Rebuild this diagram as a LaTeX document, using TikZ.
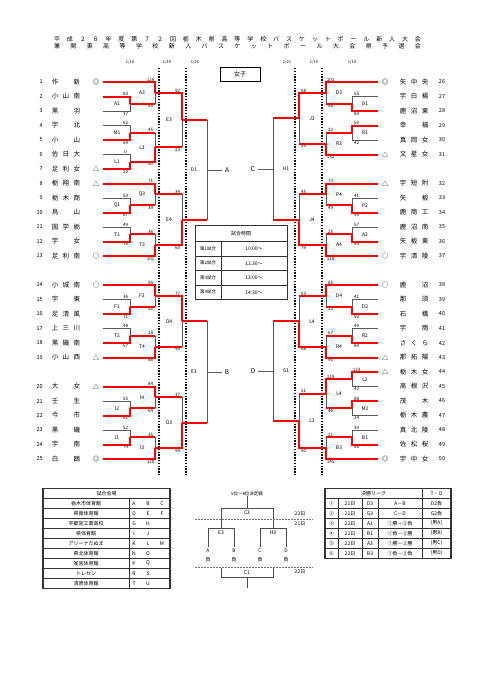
\documentclass[tikz,border=0pt]{standalone}
\usepackage{fontspec}
\setmainfont{Noto Sans CJK JP}
\usetikzlibrary{calc,positioning}

\makeatletter
\newcommand\spreadout[2]{\makebox[#1][s]{\expandafter\spread@i#2\@nil}}
\def\spread@i#1{\ifx#1\@nil\else#1\expandafter\spread@ii\fi}
\def\spread@ii#1{\ifx#1\@nil\else\hfil#1\expandafter\spread@ii\fi}
\makeatother

\tikzset{
  win/.style={draw=red, line width=2pt},
  lose/.style={draw=black!65, line width=0.7pt},
  sc/.style={font=\fontsize{4.5}{5}\selectfont, inner sep=0.6pt},
  lbl/.style={font=\fontsize{5}{6}\selectfont, inner sep=0pt},
  team/.style={font=\fontsize{6.5}{7}\selectfont, inner sep=0pt},
  num/.style={font=\fontsize{5.5}{6}\selectfont, inner sep=0pt},
  ttl/.style={font=\fontsize{6}{6}\selectfont, inner sep=0pt},
  datelbl/.style={font=\fontsize{4}{5}\selectfont, inner sep=0pt},
  dayline/.style={line width=1.4pt, dash pattern=on 1.4pt off 1.4pt},
  tline/.style={draw=black!80, line width=0.9pt},
  tbl/.style={font=\fontsize{5}{6}\selectfont, inner sep=0pt},
  pline/.style={draw=black!70, line width=0.6pt},
  pdash/.style={draw=black!55, line width=0.6pt, dash pattern=on 2pt off 1pt},
}

% one bracket: name, label, top in, bottom in, column, top score, bottom score, first round (1/0)
\newcommand\setgame[5]{%
  \coordinate (#1m) at ($(#3)!.5!(#4)$);
  \coordinate (#1) at (#1m -| #5);
  \node[lbl] (#1l) at ($(#1)+(\sd*13,0)$) {#2};}
\newcommand\feed[4]{%
  \ifnum#4=1 \draw[lose] (#3) -| (#1);
  \else \draw[win] (#3) -- (#3 -| #1); \draw[lose] (#3 -| #1) -- (#1);
  \fi
  \draw[win] (#2) -| (#1);}
\newcommand\game[8]{%
  \setgame{#1}{#2}{#3}{#4}{#5}
  \node[sc, above] (#1a) at ($(#3 -| #1)+(\sd*4.5,0)$) {#6};
  \node[sc, below] (#1b) at ($(#4 -| #1)+(\sd*4.5,0)$) {#7};
  \ifnum#6>#7\relax \feed{#1}{#3}{#4}{#8}\else \feed{#1}{#4}{#3}{#8}\fi}
% not yet played: name, top in, bottom in, column, letter
\newcommand\final[5]{%
  \setgame{#1}{#1}{#2}{#3}{#4}
  \draw[win] (#2) -- (#2 -| #1);
  \draw[win] (#3) -- (#3 -| #1);
  \draw[lose] (#2 -| #1) -- (#3 -| #1);
  \node[team, inner sep=2.5pt] (#5) at ($(#1)+(\sd*-20,0)$) {#5};
  \draw[lose] (#1) -- (#5);}

\begin{document}
\begin{tikzpicture}[x=1pt, y=-1pt]
  \fill[white] (0,0) rectangle (481,680);
  \useasboundingbox (0,0) rectangle (481,680);

  % title
  \node[ttl] (title1) at (237.5,39.5) {\spreadout{367pt}{平成２８年度第７２回栃木県高等学校バスケットボール新人大会}};
  \node[ttl] (title2) at (237.5,46) {\spreadout{367pt}{兼関東高等学校新人バスケットボール大会県予選会}};

  % days
  \foreach \x/\m/\d [count=\i] in {130/1/14, 167/1/15, 195/1/21, 287/1/21, 314/1/15, 352/1/14}
    \node[datelbl] (day\i) at (\x,62) {\m/\d};
  \foreach \x in {159,186,295,322}
    \draw[dayline] (\x,68) -- (\x,475);
  \node[draw, line width=0.8pt, minimum width=40pt, minimum height=14pt, font=\fontsize{6}{6}\selectfont] (girls) at (240,74) {女子};

  % teams, left
  \foreach \n/\y/\nm/\mk in {1/82/作新/◎, 2/96.5/小山南/{}, 3/111/黒羽/{}, 4/125.5/宇北/{}, 5/140/小山/{},
      6/154.5/佐日大/{}, 7/169/足利女/△, 8/183.5/栃翔南/△, 9/198/栃木商/{}, 10/212.5/烏山/{},
      11/227/国学栃/{}, 12/241.5/宇女/{}, 13/256/足利南/○, 14/285/小城南/○, 15/299.5/宇東/{},
      16/314/足清風/{}, 17/328.5/上三川/{}, 18/343/黒磯南/{}, 19/357.5/小山西/△, 20/386.5/大女/△,
      21/401/壬生/{}, 22/415.5/今市/{}, 23/430/黒磯/{}, 24/444.5/宇南/{}, 25/459/白鴎/◎} {
    \node[num, anchor=east] (n\n) at (43,\y) {\n};
    \node[team] (t\n) at (66,\y) {\spreadout{28.5pt}{\nm}};
    \node[team] (k\n) at (96,\y) {\mk};
    \coordinate (s\n) at (103,\y);
  }
  % teams, right
  \foreach \n/\y/\nm/\mk in {26/82/矢中央/◎, 27/96.5/宇白楊/{}, 28/111/鹿沼東/{}, 29/125.5/幸福/{}, 30/140/真岡女/{},
      31/154.5/文星女/△, 32/183.5/宇短附/△, 33/198/矢板/{}, 34/212.5/鹿商工/{}, 35/227/鹿沼南/{},
      36/241.5/矢板東/{}, 37/256/宇清陵/○, 38/285/鹿沼/○, 39/299.5/那須/{}, 40/314/石橋/{},
      41/328.5/宇商/{}, 42/343/さくら/{}, 43/357.5/那拓陽/△, 44/372/栃木女/△, 45/386.5/高根沢/{},
      46/401/茂木/{}, 47/415.5/栃木農/{}, 48/430/真北陵/{}, 49/444.5/佐松桜/{}, 50/459/宇中女/◎} {
    \node[num] (n\n) at (442,\y) {\n};
    \node[team] (t\n) at (414,\y) {\spreadout{28.5pt}{\nm}};
    \node[team] (k\n) at (385,\y) {\mk};
    \coordinate (s\n) at (378,\y);
  }

  % left bracket
  \def\sd{-1}
  \coordinate (cL1) at (130,0); \coordinate (cL2) at (155,0);
  \coordinate (cL3) at (182,0); \coordinate (cL4) at (207,0);
  \game{A1}{A1}{s2}{s3}{cL1}{83}{37}{1}
  \game{A3}{A3}{s1}{A1}{cL2}{126}{43}{0}
  \game{M1}{M1}{s4}{s5}{cL1}{62}{69}{1}
  \game{L1}{L1}{s6}{s7}{cL1}{0}{20}{1}
  \game{L3}{L3}{M1}{L1}{cL2}{45}{60}{0}
  \game{E3}{E3}{A3}{L3}{cL3}{92}{23}{0}
  \game{Q1}{Q1}{s9}{s10}{cL1}{53}{67}{1}
  \game{Q3}{Q3}{s8}{Q1}{cL2}{71}{39}{0}
  \game{T1}{T1}{s11}{s12}{cL1}{49}{76}{1}
  \game{T3}{T3}{T1}{s13}{cL2}{36}{101}{0}
  \game{E4}{E4}{Q3}{T3}{cL3}{34}{60}{0}
  \final{D1}{E3}{E4}{cL4}{A}
  \game{F1}{F1}{s15}{s16}{cL1}{36}{71}{1}
  \game{F3}{F3}{s14}{F1}{cL2}{99}{52}{0}
  \game{T2}{T2}{s17}{s18}{cL1}{48}{57}{1}
  \game{T4}{T4}{T2}{s19}{cL2}{28}{88}{0}
  \game{O4}{O4}{F3}{T4}{cL3}{77}{46}{0}
  \game{I2}{I2}{s21}{s22}{cL1}{55}{81}{1}
  \game{I4}{I4}{s20}{I2}{cL2}{84}{64}{0}
  \game{I1}{I1}{s23}{s24}{cL1}{52}{74}{1}
  \game{I3}{I3}{I1}{s25}{cL2}{26}{120}{0}
  \game{O3}{O3}{I4}{I3}{cL3}{37}{99}{0}
  \final{E1}{O4}{O3}{cL4}{B}

  % right bracket
  \def\sd{1}
  \coordinate (cR1) at (352,0); \coordinate (cR2) at (326,0);
  \coordinate (cR3) at (299,0); \coordinate (cR4) at (273,0);
  \game{rD1}{D1}{s27}{s28}{cR1}{55}{89}{1}
  \game{D3}{D3}{s26}{rD1}{cR2}{101}{56}{0}
  \game{R1}{R1}{s29}{s30}{cR1}{50}{42}{1}
  \game{R3}{R3}{R1}{s31}{cR2}{22}{132}{0}
  \game{J3}{J3}{D3}{R3}{cR3}{68}{59}{0}
  \game{P2}{P2}{s33}{s34}{cR1}{41}{99}{1}
  \game{P4}{P4}{s32}{P2}{cR2}{73}{49}{0}
  \game{A2}{A2}{s35}{s36}{cR1}{57}{64}{1}
  \game{A4}{A4}{A2}{s37}{cR2}{25}{118}{0}
  \game{J4}{J4}{P4}{A4}{cR3}{45}{79}{0}
  \final{H1}{J3}{J4}{cR4}{C}
  \game{D2}{D2}{s39}{s40}{cR1}{41}{92}{1}
  \game{D4}{D4}{s38}{D2}{cR2}{85}{23}{0}
  \game{R2}{R2}{s41}{s42}{cR1}{49}{80}{1}
  \game{R4}{R4}{R2}{s43}{cR2}{67}{90}{0}
  \game{rL4}{L4}{D4}{R4}{cR3}{63}{68}{0}
  \game{L2}{L2}{s44}{s45}{cR1}{123}{42}{1}
  \game{M2}{M2}{s46}{s47}{cR1}{88}{24}{1}
  \game{L4}{L4}{L2}{M2}{cR2}{119}{46}{0}
  \game{B1}{B1}{s48}{s49}{cR1}{39}{58}{1}
  \game{B3}{B3}{B1}{s50}{cR2}{21}{145}{0}
  \game{rL3}{L3}{L4}{B3}{cR3}{51}{90}{0}
  \final{G1}{rL4}{rL3}{cR4}{D}

  % game times
  \draw[tline] (195,225) rectangle (287,299.5);
  \foreach \y in {241.5,256,270.5,285}
    \draw[tline] (195,\y) -- (287,\y);
  \draw[tline] (221,241.5) -- (221,299.5);
  \node[tbl] (timehead) at (241,233.5) {試合時間};
  \foreach \y/\g/\t [count=\i] in {248.75/第1試合/10:00～, 263.25/第2試合/11:30～, 277.75/第3試合/13:00～, 292.25/第4試合/14:30～} {
    \node[tbl, font=\fontsize{4.5}{5}\selectfont] (g\i) at (208,\y) {\g};
    \node[tbl] (h\i) at (254,\y) {\t};
  }

  % venues
  \draw[tline, line width=1.3pt] (43,488.3) rectangle (170,588.3);
  \foreach \k in {1,...,9}
    \draw[tline] (43,{488.3+10*\k}) -- (170,{488.3+10*\k});
  \draw[tline] (129,498.3) -- (129,588.3);
  \node[tbl] (venuehead) at (106.5,493.3) {試合会場};
  \foreach \v/\a/\b/\c [count=\i] in {栃木市体育館/A/B/C, 県南体育館/D/E/F, 宇都宮工業高校/G/H/{}, 県体育館/I/J/{},
      アリーナたぬま/K/L/M, 県北体育館/N/O/{}, 雀宮体育館/P/Q/{}, トレセン/R/S/{}, 清原体育館/T/U/{}} {
    \node[tbl] (v\i) at (86,{493.3+10*\i}) {\v};
    \node[tbl] (va\i) at (134,{493.3+10*\i}) {\a};
    \node[tbl] (vb\i) at (148,{493.3+10*\i}) {\b};
    \node[tbl] (vc\i) at (162,{493.3+10*\i}) {\c};
  }

  % 5th to 8th place
  \node[tbl, font=\fontsize{4.5}{5}\selectfont] (ptitle) at (247,493.5) {5位～8位決定戦};
  \coordinate (pc3) at (247,508);
  \coordinate (pe3) at (221,528); \coordinate (ph3) at (273,528);
  \draw[pline] (ptitle) -- (pc3);
  \draw[pline] (pe3) -- (pe3 |- pc3) -- (ph3 |- pc3) -- (ph3);
  \node[tbl] (pc3l) at (247,512.5) {C3};
  \node[tbl] (pe3l) at (221,533) {E3};
  \node[tbl] (ph3l) at (273,533) {H3};
  \foreach \p/\x/\c in {pa/208/A, pb/234/B, pc/260/C, pd/286/D} {
    \node[tbl, inner sep=1.5pt] (\p) at (\x,551) {\c};
    \node[tbl] (\p n) at (\x,560) {負};
  }
  \draw[pline] (pa) -- (pa |- pe3) -- (pb |- pe3) -- (pb);
  \draw[pline] (pc) -- (pc |- ph3) -- (pd |- ph3) -- (pd);
  \coordinate (pl) at (221,568); \coordinate (pr) at (273,568);
  \coordinate (pc1) at (247,577); \coordinate (pend) at (247,588);
  \draw[pline] (pl) -- (pl |- pc1) -- (pr |- pc1) -- (pr);
  \draw[pline] (pc1) -- (pend);
  \node[tbl] (pc1l) at (247,573) {C1};
  \draw[pdash] (195,519) -- (313,519);
  \draw[pdash] (195,567) -- (313,567);
  \node[tbl] (pday1) at (300,514) {22日};
  \node[tbl] (pday2) at (300,523.5) {21日};
  \node[tbl] (pday3) at (300,572) {22日};

  % final league
  \draw[tline, line width=1.3pt] (325,488.3) rectangle (451,558.3);
  \foreach \k in {1,...,6}
    \draw[tline] (325,{488.3+10*\k}) -- (451,{488.3+10*\k});
  \foreach \x in {338,362,378}
    \draw[tline] (\x,498.3) -- (\x,558.3);
  \draw[tline] (422,488.3) -- (422,558.3);
  \node[tbl] (leaguehead) at (373.5,493.3) {決勝リーグ};
  \node[tbl] (tohead) at (436.5,493.3) {T・O};
  \foreach \c/\d/\g/\m/\o [count=\i] in {①/21日/D3/A－B/D2負, ②/21日/G3/C－D/G2負, ③/22日/A1/①勝－②負/(男A),
      ④/22日/B1/①負－②勝/(男B), ⑤/22日/A3/①勝－②勝/(男C), ⑥/22日/B3/①負－②負/(男D)} {
    \node[tbl] (fc\i) at (331.5,{493.3+10*\i}) {\c};
    \node[tbl] (fd\i) at (350,{493.3+10*\i}) {\d};
    \node[tbl] (fg\i) at (370,{493.3+10*\i}) {\g};
    \node[tbl] (fm\i) at (400,{493.3+10*\i}) {\m};
    \node[tbl] (fo\i) at (436.5,{493.3+10*\i}) {\o};
  }
\end{tikzpicture}
\end{document}
